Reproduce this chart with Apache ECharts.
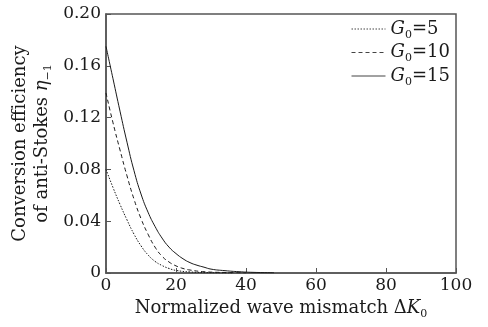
<!DOCTYPE html>
<html>
<head>
<meta charset="utf-8">
<script src="https://cdn.jsdelivr.net/npm/echarts@6/dist/echarts.min.js"></script>
<style>
  html, body { margin: 0; padding: 0; background: #fff; }
  #chart { width: 488px; height: 327px; }
</style>
</head>
<body>
<div id="chart"></div>
<script>
// values
const dkG5 = [0, 2, 4, 6, 8, 10, 12, 14, 16, 18, 20, 24, 30, 36]
const etaG5 = [0.080, 0.066, 0.053, 0.041, 0.030, 0.021, 0.014, 0.009, 0.0058, 0.0035, 0.002, 0.0008, 0.0002, 0]
const dkG10 = [0, 2, 4, 6, 8, 10, 12, 14, 16, 18, 20, 22, 24, 28, 34, 40]
const etaG10 = [0.139, 0.116, 0.095, 0.075, 0.057, 0.042, 0.030, 0.020, 0.013, 0.0085, 0.0055, 0.0035, 0.0023, 0.001, 0.0004, 0.0001]
const dkG15 = [0, 2, 4, 6, 8, 10, 12, 14, 16, 18, 20, 22, 24, 26, 28, 30, 34, 38, 42, 48]
const etaG15 = [0.175, 0.15, 0.125, 0.101, 0.079, 0.061, 0.047, 0.036, 0.027, 0.020, 0.015, 0.011, 0.008, 0.006, 0.0045, 0.003, 0.0018, 0.001, 0.0005, 0.0002]
const legendNames = ['5', '10', '15']
const xTicks = [0, 20, 40, 60, 80, 100]
const yTicks = [0, 0.04, 0.08, 0.12, 0.16, 0.20]

const font = 'DejaVu Serif'
const ink = '#1a1a1a'
const pair = (xs, ys) => xs.map((x, i) => [x, ys[i]])

const chart = echarts.init(document.getElementById('chart'))

const mkSeries = (name, data, type) => ({
  name,
  type: 'line',
  data,
  smooth: true,
  symbol: 'none',
  color: ink,
  lineStyle: { color: ink, width: 1, type }
})

const sub = { fontFamily: font, fontSize: 11, color: ink, padding: [12, 0, 0, 0] }

const option = {
  backgroundColor: '#fff',
  animation: false,
  grid: {
    left: 106, right: 32, top: 14, bottom: 54,
    show: true, borderColor: '#555', borderWidth: 1.5
  },
  legend: {
    left: 346, top: 15,
    orient: 'vertical',
    itemWidth: 34, itemHeight: 14, itemGap: 3,
    itemStyle: { opacity: 0 },
    lineStyle: { width: 1, color: '#444' },
    data: ['G5', 'G10', 'G15'],
    formatter: (n) => '{i|G}{s|0}{n|=' + n.slice(1) + '}',
    textStyle: {
      fontFamily: font, fontSize: 18, color: ink,
      rich: {
        i: { fontFamily: font, fontStyle: 'italic', fontSize: 18, color: ink },
        s: sub,
        n: { fontFamily: font, fontSize: 18, color: ink }
      }
    }
  },
  xAxis: {
    type: 'value', min: 0, max: 100, interval: 20,
    name: '{n|Normalized wave mismatch Δ}{i|K}{s|0}',
    nameLocation: 'middle', nameGap: 22,
    nameTextStyle: {
      rich: {
        n: { fontFamily: font, fontSize: 18, color: ink },
        i: { fontFamily: font, fontStyle: 'italic', fontSize: 18, color: ink },
        s: sub
      }
    },
    axisLine: { lineStyle: { color: '#555', width: 1.5 } },
    axisTick: { inside: true, length: 5, lineStyle: { color: '#555' } },
    axisLabel: { fontFamily: font, fontSize: 17, color: ink, margin: 4,
      formatter: (v) => xTicks.includes(v) ? String(v) : '' },
    splitLine: { show: false }
  },
  yAxis: {
    type: 'value', min: 0, max: 0.2, interval: 0.04,
    name: '{n|Conversion efficiency}\n{n|of anti-Stokes }{i|η}{s|−1}',
    nameLocation: 'middle', nameGap: 52, nameRotate: 90,
    nameMoveOverlap: false,
    nameTextStyle: {
      align: 'center',
      rich: {
        n: { fontFamily: font, fontSize: 18, color: ink, lineHeight: 21 },
        i: { fontFamily: font, fontStyle: 'italic', fontSize: 18, color: ink, lineHeight: 21 },
        s: sub
      }
    },
    axisLine: { show: true, lineStyle: { color: '#555', width: 1.5 } },
    axisTick: { show: true, inside: true, length: 5, lineStyle: { color: '#555' } },
    axisLabel: { fontFamily: font, fontSize: 17, color: ink, margin: 5,
      formatter: (v) => {
        const t = yTicks.find(y => Math.abs(y - v) < 1e-9)
        if (t === undefined) return ''
        return t === 0 ? '0' : t.toFixed(2)
      } },
    splitLine: { show: false }
  },
  series: [
    mkSeries('G' + legendNames[0], pair(dkG5, etaG5), [1.5, 1.5]),
    mkSeries('G' + legendNames[1], pair(dkG10, etaG10), [4, 3]),
    mkSeries('G' + legendNames[2], pair(dkG15, etaG15), 'solid')
  ]
}

chart.setOption(option)
</script>
</body>
</html>
